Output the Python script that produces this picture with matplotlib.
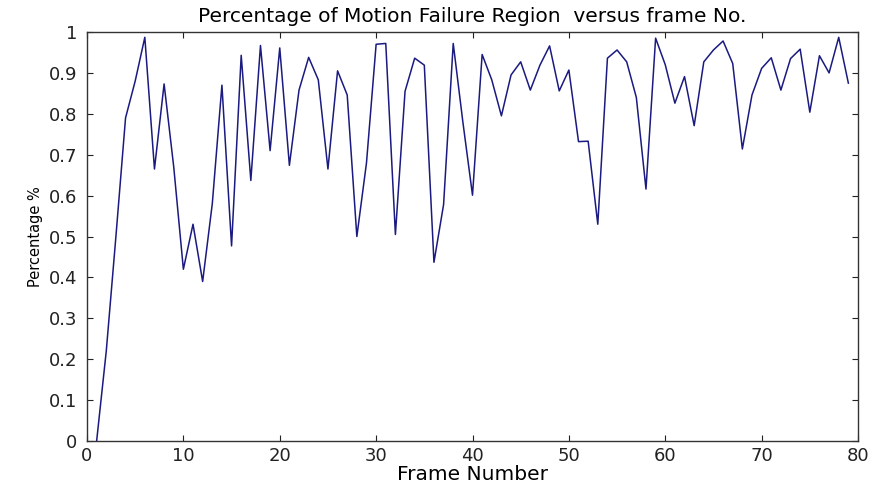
import matplotlib
matplotlib.use('Agg')
import matplotlib.pyplot as plt

plt.rcParams['font.family'] = ['DejaVu Sans']

# 帧号与运动失败区域比例
frames = list(range(1, 80))
percent = [
    0.0, 0.22, 0.50, 0.79, 0.88, 0.987, 0.665, 0.873, 0.67, 0.42,
    0.53, 0.39, 0.58, 0.87, 0.477, 0.943, 0.637, 0.967, 0.71, 0.961,
    0.674, 0.858, 0.938, 0.883, 0.665, 0.905, 0.846, 0.50, 0.68, 0.97,
    0.972, 0.505, 0.855, 0.936, 0.919, 0.437, 0.578, 0.972, 0.78, 0.601,
    0.945, 0.883, 0.795, 0.895, 0.927, 0.858, 0.919, 0.966, 0.856, 0.907,
    0.732, 0.733, 0.53, 0.936, 0.956, 0.927, 0.84, 0.616, 0.985, 0.92,
    0.826, 0.891, 0.771, 0.927, 0.956, 0.978, 0.923, 0.714, 0.846, 0.911,
    0.937, 0.858, 0.935, 0.958, 0.804, 0.942, 0.90, 0.987, 0.875,
]
xticks = list(range(0, 81, 10))
yticks = [i / 10 for i in range(11)]
ytick_labels = ['0', '0.1', '0.2', '0.3', '0.4', '0.5', '0.6', '0.7', '0.8', '0.9', '1']

fig = plt.figure(figsize=(8.69, 4.84), dpi=100)
ax = fig.add_axes([87 / 869, 43 / 484, 771 / 869, 409 / 484])
ax.plot(frames, percent, color='#1a1a80', linewidth=1.1)

ax.set_xlim(0, 80)
ax.set_ylim(0, 1)
ax.set_xticks(xticks)
ax.set_yticks(yticks)
ax.set_yticklabels(ytick_labels)

ax.tick_params(direction='in', length=4, width=0.8, top=True, right=True,
               labelsize=13, colors='#222222')
ax.tick_params(axis='x', pad=4)
ax.tick_params(axis='y', pad=7)
for s in ax.spines.values():
    s.set_color('#333333')
    s.set_linewidth(1.0)

ax.set_title("Percentage of Motion Failure Region  versus frame No.", fontsize=14.5, pad=7)
ax.set_xlabel("Frame Number", fontsize=14.5, labelpad=0)
ax.set_ylabel("Percentage %", fontsize=10.5, labelpad=4)

fig.savefig('out.png', dpi=100, facecolor='white')
